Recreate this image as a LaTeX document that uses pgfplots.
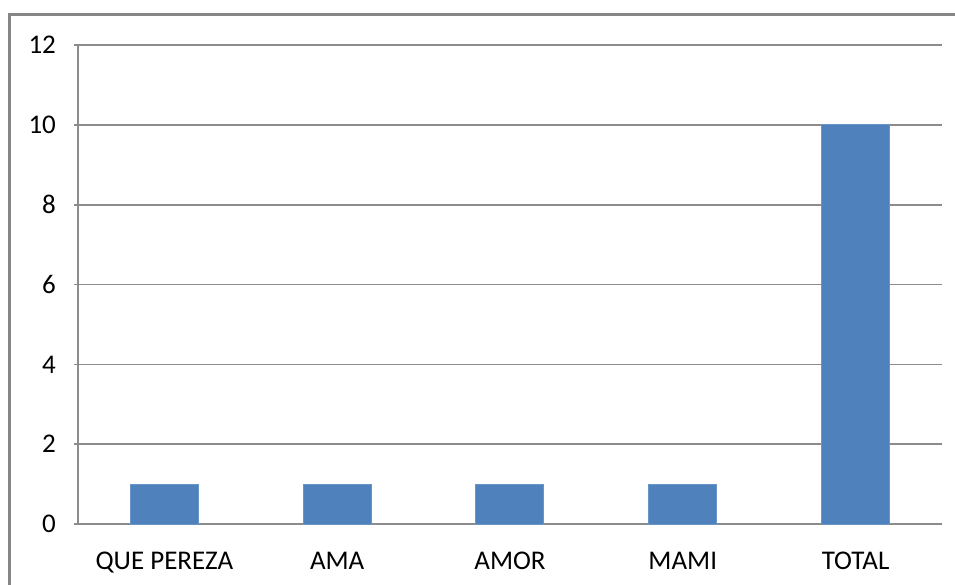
\documentclass[border=0pt]{standalone}
\usepackage{pgfplots}
\pgfplotsset{compat=1.18}
\usepackage{fontspec}
\setmainfont{Carlito}
\definecolor{barblue}{HTML}{4F81BD}
\definecolor{gridgray}{HTML}{8C8C8C}
\definecolor{framegray}{HTML}{868686}
\begin{document}
\begin{tikzpicture}[x=0.3pt,y=0.3pt]
\useasboundingbox (0,0) rectangle (955,584);
\draw[framegray, line width=0.9pt] (9,-20) -- (9,570) -- (980,570);
\begin{axis}[
    at={(23.4pt,18pt)}, anchor=south west,
    scale only axis,
    width=259.2pt, height=143.7pt,
    xmin=-0.5, xmax=4.5,
    ymin=0, ymax=12,
    ytick={0,2,...,12},
    xtick={0,1,2,3,4},
    xticklabels={QUE PEREZA,AMA,AMOR,MAMI,TOTAL},
    extra x ticks={-0.5,0.5,1.5,2.5,3.5,4.5},
    extra x tick labels={},
    major tick length=2.6pt,
    tick style={gridgray, line width=0.5pt},
    xtick style={draw=none},
    extra x tick style={tick style={draw=gridgray}},
    tick align=outside,
    axis x line=bottom, axis y line=left,
    axis line style={-, gridgray, line width=0.5pt},
    ymajorgrids,
    grid style={gridgray, line width=0.5pt},
    tick label style={font=\fontsize{8.1}{10}\selectfont, text=black},
    /pgf/number format/assume math mode=true,
    xticklabel style={yshift=-2.2pt},
    yticklabel style={xshift=-1.8pt},
    ybar, bar width=20.4pt,
]
\addplot[fill=barblue, draw=barblue!85!white, line width=0.3pt] coordinates {
    (0,1) (1,1) (2,1) (3,1) (4,10)
};
\end{axis}
\end{tikzpicture}
\end{document}
